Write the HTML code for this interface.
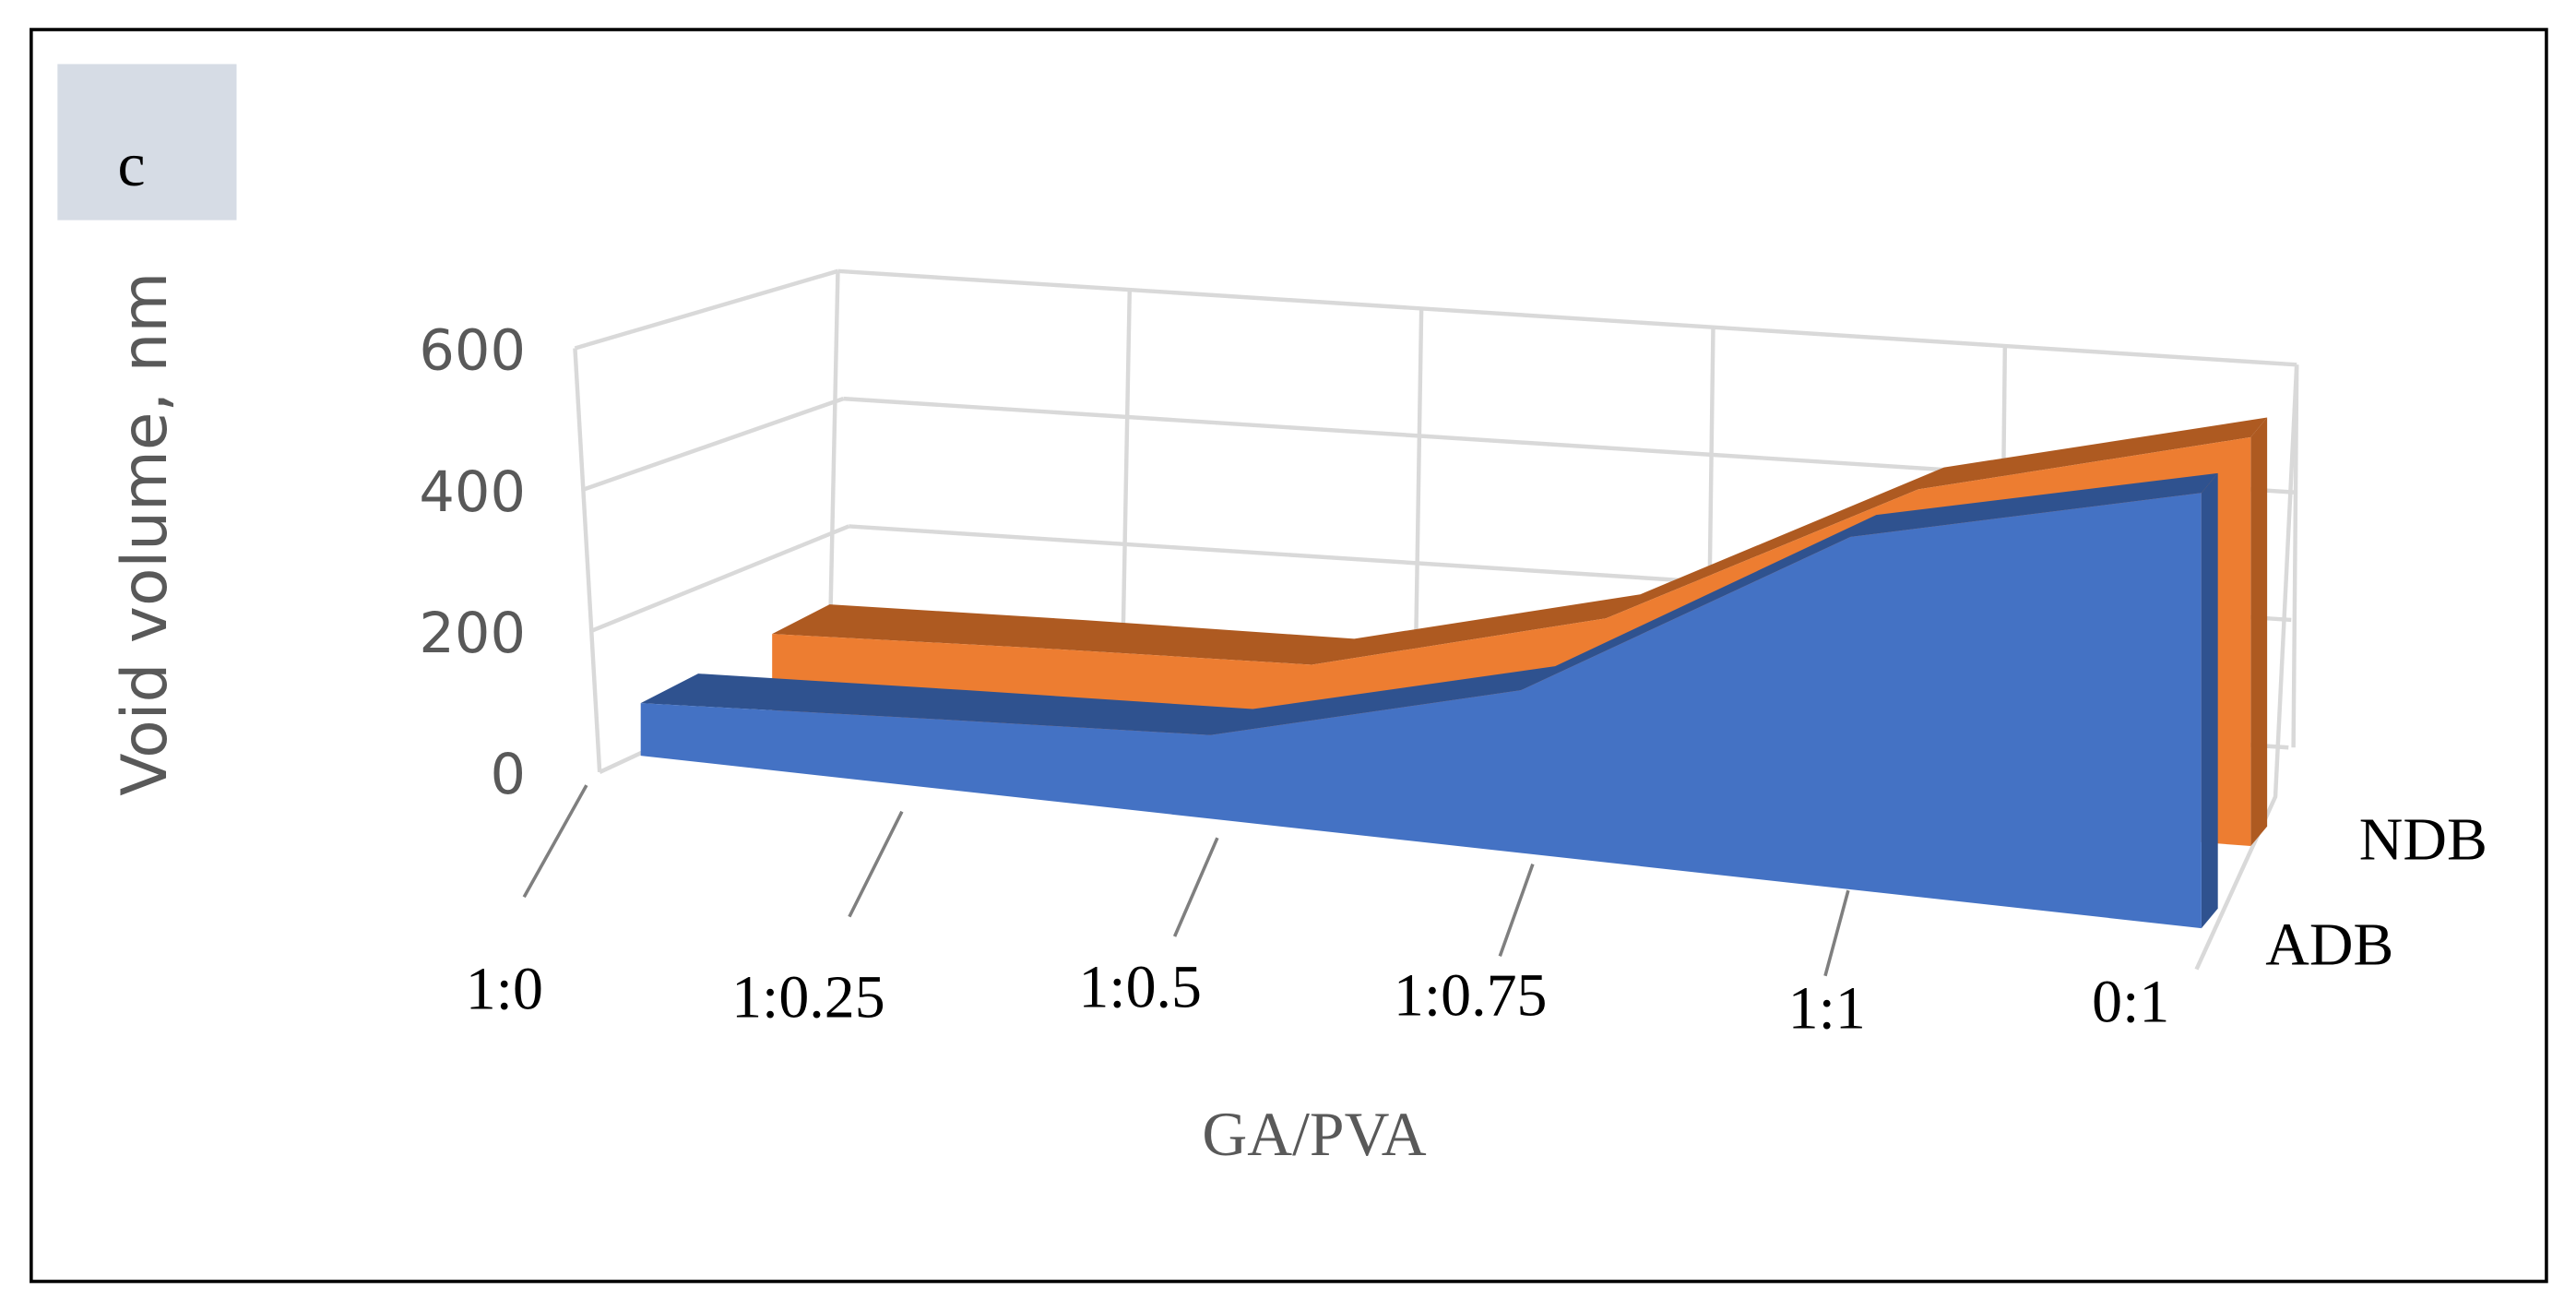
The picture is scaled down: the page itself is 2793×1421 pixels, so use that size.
<!DOCTYPE html>
<html><head><meta charset="utf-8"><style>
html,body{margin:0;padding:0;background:#fff;}
svg{display:block;}
</style></head><body>
<svg id="chart" width="2793" height="1421" viewBox="0 0 1568 798" preserveAspectRatio="none" xmlns="http://www.w3.org/2000/svg">
<rect x="19" y="18" width="1531" height="762" fill="#fff" stroke="#000" stroke-width="2"/>
<rect x="35" y="39" width="109" height="95" fill="#d6dce5"/>
<text x="80" y="113" font-family="Liberation Serif, serif" font-size="38" text-anchor="middle" fill="#000">c</text>
<text transform="translate(101,325) rotate(-90)" font-family="DejaVu Sans, sans-serif" font-size="38" text-anchor="middle" fill="#595959">Void volume, nm</text>
<text x="800" y="703" font-family="Liberation Serif, serif" font-size="38" text-anchor="middle" fill="#595959">GA/PVA</text>
<g id="grid"></g>
<g id="series"></g>
<g id="labels"></g>
</svg>
<script>
const categories = ["1:0","1:0.25","1:0.5","1:0.75","1:1","0:1"];
const seriesNames = ["NDB","ADB"];
const ndbValues = [197,192,184,277,475,541];
const adbValues = [100,118,132,235,467,530];
const yTicks = [0,200,400,600];

const NS="http://www.w3.org/2000/svg";
function mk(tag,attrs,parent){const e=document.createElementNS(NS,tag);for(const k in attrs)e.setAttribute(k,attrs[k]);parent.appendChild(e);return e;}
const grid=document.getElementById('grid'),ser=document.getElementById('series'),lab=document.getElementById('labels');

function warp(i){const t=i/(categories.length-1);return t/(1+0.16*(1-t));}
function plane(d){return {xL:390+80*d,xR:1340+30*d,bL:460-15*d,bR:565-50*d,kL:0.32-0.02*d,kR:0.5-0.04*d};}
function proj(i,v,d){const p=plane(d),t=warp(i);
 const x=p.xL+(p.xR-p.xL)*t, b=p.bL+(p.bR-p.bL)*t, k=p.kL+(p.kR-p.kL)*t;
 return [x,b-v*k];}
function off(i){const t=warp(i);return [35-25*t,-18+6*t];}

const gc="#d9d9d9";
yTicks.forEach(v=>{
 const f=v/600;
 const lx=365-15*f, ly=470-258*f;
 const bx=520-10*f, by=398-233*f;
 const rx=1393+5*f, ry=455-233*f;
 const g1=mk('line',{x1:lx,y1:ly,x2:bx,y2:by,stroke:gc,'stroke-width':2.5},grid);
 
 
 const g2=mk('line',{x1:bx,y1:by,x2:rx,y2:ry,stroke:gc,'stroke-width':2.5},grid);
 
 
 const tl=mk('text',{x:320,y:ly+13,'font-family':'DejaVu Sans, sans-serif','font-size':34,'text-anchor':'end',fill:'#595959'},lab);
 tl.textContent=v;
 
 
});
const le=mk('line',{x1:350,y1:212,x2:365,y2:470,stroke:gc,'stroke-width':2.5},grid);


categories.forEach((c,i)=>{
 const t=i/(categories.length-1);
 const x=510+888*t, y=165+57*t;
 const vl=mk('line',{x1:x,y1:y,x2:x-5+3*t,y2:y+233,stroke:gc,'stroke-width':2.5},grid);
 
 
});
const rw=mk('polyline',{points:'1398,222 1385,485 1337,590',fill:'none',stroke:gc,'stroke-width':2.5},grid);



const labPos=[[307,614],[492,619],[694,613],[895,618],[1112,626],[1297,622]];
categories.forEach((c,i)=>{
 if(i<categories.length-1){
  const x=357+192*i, y=478+16*i;
  const tk=mk('line',{x1:x,y1:y,x2:x-38+6*i,y2:y+68-4*i,stroke:'#7f7f7f','stroke-width':2},grid);
  
  
 }
 const tx=mk('text',{x:labPos[i][0],y:labPos[i][1],'font-family':'Liberation Serif, serif','font-size':37,'text-anchor':'middle',fill:'#000'},lab);
 tx.textContent=c;
 
 
});
const sl1=mk('text',{x:1475,y:523,'font-family':'Liberation Serif, serif','font-size':37,'text-anchor':'middle',fill:'#000'},lab);
sl1.textContent=seriesNames[0];


const sl2=mk('text',{x:1418,y:587,'font-family':'Liberation Serif, serif','font-size':37,'text-anchor':'middle',fill:'#000'},lab);
sl2.textContent=seriesNames[1];



function drawSeries(vals,d,front,top,name){
 const n=vals.length;
 const F=vals.map((v,i)=>proj(i,v,d));
 const B=vals.map((v,i)=>{const o=off(i);return [F[i][0]+o[0],F[i][1]+o[1]];});
 const base0=proj(0,0,d), baseN=proj(n-1,0,d);
 let pts=F.map(p=>p.join(',')).concat(B.slice().reverse().map(p=>p.join(',')));
 const tp=mk('polygon',{points:pts.join(' '),fill:top},ser);
 
 
 const oN=off(n-1);
 const sp=[F[n-1],B[n-1],[baseN[0]+oN[0],baseN[1]+oN[1]],baseN].map(p=>p.join(',')).join(' ');
 const rs=mk('polygon',{points:sp,fill:top},ser);
 
 
 const fp=F.map(p=>p.join(',')).concat([baseN.join(','),base0.join(',')]);
 const ff=mk('polygon',{points:fp.join(' '),fill:front},ser);
 
 
}
drawSeries(ndbValues,1,'#ed7d31','#ae5a21','ndb-area');
drawSeries(adbValues,0,'#4472c4','#2f528f','adb-area');
</script>
</body></html>
